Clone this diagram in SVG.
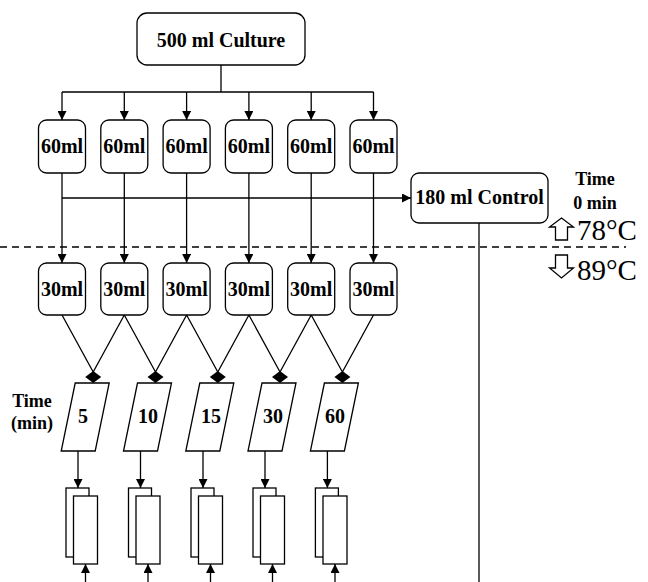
<svg xmlns="http://www.w3.org/2000/svg" width="648" height="582" viewBox="0 0 648 582">
<style>
text{font-family:'Liberation Serif','Times New Roman','DejaVu Serif',serif}
.box{fill:#fff;stroke:#000;stroke-width:1.3}
.ln{fill:none;stroke:#000;stroke-width:1.3}
.lb{font-weight:bold;font-size:20px;text-anchor:middle;fill:#000}
.sm{font-weight:bold;font-size:18px;text-anchor:middle;fill:#000}
.tp{font-size:29px;fill:#000}
.dm{fill:#000}
</style>
<defs>
<marker id="ah" viewBox="0 0 10 10" refX="10" refY="5" markerWidth="9" markerHeight="9" markerUnits="userSpaceOnUse" orient="auto">
<path d="M0,0 L10,5 L0,10 z" fill="#000"/>
</marker>
</defs>
<rect width="648" height="582" fill="#fff"/>
<g id="connectors">
<path class="ln" d="M221,65 V92 M62,92 H373.5"/>
<line class="ln" x1="62" y1="92" x2="62" y2="120" marker-end="url(#ah)"/>
<line class="ln" x1="124.3" y1="92" x2="124.3" y2="120" marker-end="url(#ah)"/>
<line class="ln" x1="186.6" y1="92" x2="186.6" y2="120" marker-end="url(#ah)"/>
<line class="ln" x1="248.9" y1="92" x2="248.9" y2="120" marker-end="url(#ah)"/>
<line class="ln" x1="311.2" y1="92" x2="311.2" y2="120" marker-end="url(#ah)"/>
<line class="ln" x1="373.5" y1="92" x2="373.5" y2="120" marker-end="url(#ah)"/>
<line class="ln" x1="62" y1="173" x2="62" y2="263" marker-end="url(#ah)"/>
<line class="ln" x1="124.3" y1="173" x2="124.3" y2="263" marker-end="url(#ah)"/>
<line class="ln" x1="186.6" y1="173" x2="186.6" y2="263" marker-end="url(#ah)"/>
<line class="ln" x1="248.9" y1="173" x2="248.9" y2="263" marker-end="url(#ah)"/>
<line class="ln" x1="311.2" y1="173" x2="311.2" y2="263" marker-end="url(#ah)"/>
<line class="ln" x1="373.5" y1="173" x2="373.5" y2="263" marker-end="url(#ah)"/>
<line class="ln" x1="62" y1="198" x2="411" y2="198" marker-end="url(#ah)"/>
<line class="ln" x1="479" y1="223" x2="479" y2="582"/>
<line x1="0" y1="247" x2="626" y2="247" stroke="#000" stroke-width="1.3" stroke-dasharray="7,5"/>
<path class="ln" d="M62,315 L93.2,372 M124.3,315 L93.2,372 M124.3,315 L155.5,372 M186.6,315 L155.5,372 M186.6,315 L217.8,372 M248.9,315 L217.8,372 M248.9,315 L280,372 M311.2,315 L280,372 M311.2,315 L342.4,372 M373.5,315 L342.4,372"/>
<line class="ln" x1="78" y1="451" x2="78" y2="488" marker-end="url(#ah)"/>
<line class="ln" x1="140.5" y1="451" x2="140.5" y2="488" marker-end="url(#ah)"/>
<line class="ln" x1="203" y1="451" x2="203" y2="488" marker-end="url(#ah)"/>
<line class="ln" x1="265" y1="451" x2="265" y2="488" marker-end="url(#ah)"/>
<line class="ln" x1="327.4" y1="451" x2="327.4" y2="488" marker-end="url(#ah)"/>
<line class="ln" x1="85.5" y1="582" x2="85.5" y2="564" marker-end="url(#ah)"/>
<line class="ln" x1="148" y1="582" x2="148" y2="564" marker-end="url(#ah)"/>
<line class="ln" x1="210.5" y1="582" x2="210.5" y2="564" marker-end="url(#ah)"/>
<line class="ln" x1="272.5" y1="582" x2="272.5" y2="564" marker-end="url(#ah)"/>
<line class="ln" x1="335" y1="582" x2="335" y2="564" marker-end="url(#ah)"/>
</g>
<g id="culture"><rect class="box" x="137" y="13" width="168" height="52" rx="10"/><text class="lb" x="221" y="47">500 ml Culture</text></g>
<g id="s60-1"><rect class="box" x="38.5" y="120" width="47" height="53" rx="8"/><text class="lb" x="62" y="153">60ml</text></g>
<g id="s60-2"><rect class="box" x="100.8" y="120" width="47" height="53" rx="8"/><text class="lb" x="124.3" y="153">60ml</text></g>
<g id="s60-3"><rect class="box" x="163.1" y="120" width="47" height="53" rx="8"/><text class="lb" x="186.6" y="153">60ml</text></g>
<g id="s60-4"><rect class="box" x="225.4" y="120" width="47" height="53" rx="8"/><text class="lb" x="248.9" y="153">60ml</text></g>
<g id="s60-5"><rect class="box" x="287.7" y="120" width="47" height="53" rx="8"/><text class="lb" x="311.2" y="153">60ml</text></g>
<g id="s60-6"><rect class="box" x="350" y="120" width="47" height="53" rx="8"/><text class="lb" x="373.5" y="153">60ml</text></g>
<g id="control"><rect class="box" x="411" y="173" width="137" height="50" rx="8"/><text class="lb" x="479.5" y="204">180 ml Control</text></g>
<g id="time0"><text class="sm" x="595" y="185">Time</text><text class="sm" x="595" y="209">0 min</text></g>
<g id="temp-up"><path class="ln" d="M555.5,240 V227 H549.5 L561.5,218 L573.5,227 H567.5 V240 Z" fill="#fff"/><text class="tp" x="577" y="240">78°C</text></g>
<g id="temp-down"><path class="ln" d="M555.5,255 V268 H549.5 L561.5,278 L573.5,268 H567.5 V255 Z" fill="#fff"/><text class="tp" x="577" y="280">89°C</text></g>
<g id="s30-1"><rect class="box" x="38.5" y="263" width="47" height="52" rx="8"/><text class="lb" x="62" y="296">30ml</text></g>
<g id="s30-2"><rect class="box" x="100.8" y="263" width="47" height="52" rx="8"/><text class="lb" x="124.3" y="296">30ml</text></g>
<g id="s30-3"><rect class="box" x="163.1" y="263" width="47" height="52" rx="8"/><text class="lb" x="186.6" y="296">30ml</text></g>
<g id="s30-4"><rect class="box" x="225.4" y="263" width="47" height="52" rx="8"/><text class="lb" x="248.9" y="296">30ml</text></g>
<g id="s30-5"><rect class="box" x="287.7" y="263" width="47" height="52" rx="8"/><text class="lb" x="311.2" y="296">30ml</text></g>
<g id="s30-6"><rect class="box" x="350" y="263" width="47" height="52" rx="8"/><text class="lb" x="373.5" y="296">30ml</text></g>
<g id="timemin"><text class="sm" x="32" y="407">Time</text><text class="sm" x="32" y="429">(min)</text></g>
<g id="t5"><path class="dm" d="M93.2,371 L101.2,377 L93.2,383 L85.2,377 Z"/><polygon class="box" points="75.2,383 109.2,383 95.2,451 61.2,451"/><text class="lb" x="83" y="423">5</text></g>
<g id="t10"><path class="dm" d="M155.5,371 L163.5,377 L155.5,383 L147.5,377 Z"/><polygon class="box" points="137.5,383 171.5,383 157.5,451 123.5,451"/><text class="lb" x="148" y="423">10</text></g>
<g id="t15"><path class="dm" d="M217.8,371 L225.8,377 L217.8,383 L209.8,377 Z"/><polygon class="box" points="199.8,383 233.8,383 219.8,451 185.8,451"/><text class="lb" x="211" y="423">15</text></g>
<g id="t30"><path class="dm" d="M280,371 L288,377 L280,383 L272,377 Z"/><polygon class="box" points="262,383 296,383 282,451 248,451"/><text class="lb" x="273" y="423">30</text></g>
<g id="t60"><path class="dm" d="M342.4,371 L350.4,377 L342.4,383 L334.4,377 Z"/><polygon class="box" points="324.4,383 358.4,383 344.4,451 310.4,451"/><text class="lb" x="335" y="423">60</text></g>
<g id="c1"><rect class="box" x="66" y="488" width="23" height="69"/><rect class="box" x="73.5" y="496" width="24" height="68"/></g>
<g id="c2"><rect class="box" x="128.5" y="488" width="23" height="69"/><rect class="box" x="136" y="496" width="24" height="68"/></g>
<g id="c3"><rect class="box" x="191" y="488" width="23" height="69"/><rect class="box" x="198.5" y="496" width="24" height="68"/></g>
<g id="c4"><rect class="box" x="253" y="488" width="23" height="69"/><rect class="box" x="260.5" y="496" width="24" height="68"/></g>
<g id="c5"><rect class="box" x="315.4" y="488" width="23" height="69"/><rect class="box" x="323" y="496" width="24" height="68"/></g>
</svg>
